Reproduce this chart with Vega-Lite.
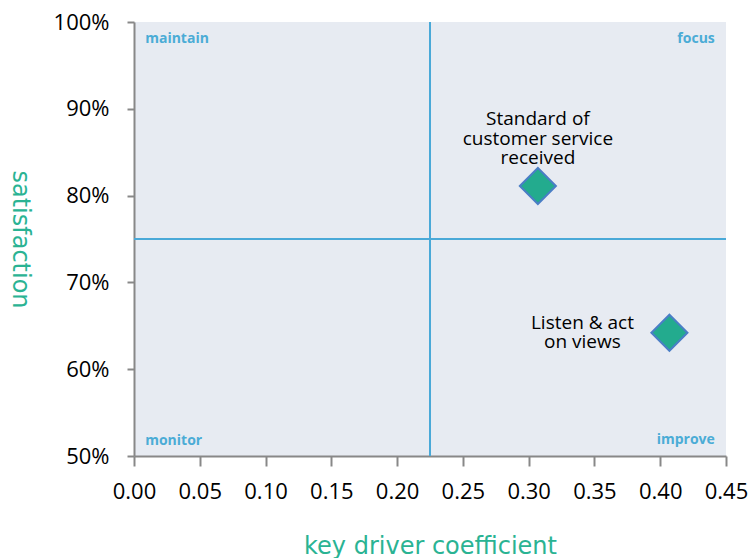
{
  "$schema": "https://vega.github.io/schema/vega-lite/v6.json",
  "width": 592,
  "height": 434,
  "autosize": {"type": "none"},
  "padding": {"left": 134, "top": 22, "right": 27, "bottom": 102},
  "background": "white",
  "view": {"fill": "#e7ebf2", "stroke": null},
  "config": {
    "font": "Open Sans",
    "axis": {
      "domainColor": "#888888", "domainWidth": 2, "tickColor": "#888888", "tickWidth": 2,
      "labelColor": "#000000", "labelFont": "Open Sans", "labelFontSize": 22, "labelOverlap": false, "labelFlush": false,
      "titleColor": "#2ab393", "titleFont": "DejaVu Sans", "titleFontSize": 24, "titleFontWeight": "normal",
      "grid": false
    }
  },
  "datasets": {
    "points": [
      {"driver": "Standard of\ncustomer service\nreceived", "coef": 0.307, "sat": 0.811, "pos": "above"},
      {"driver": "Listen & act\non views", "coef": 0.407, "sat": 0.642, "pos": "left"}
    ],
    "quadrants": [
      {"label": "maintain", "coef": 0.0085, "sat": 0.98, "side": "left"},
      {"label": "focus", "coef": 0.4415, "sat": 0.98, "side": "right"},
      {"label": "monitor", "coef": 0.0085, "sat": 0.517, "side": "left"},
      {"label": "improve", "coef": 0.4415, "sat": 0.518, "side": "right"}
    ],
    "vline": [{"coef": 0.225}],
    "hline": [{"sat": 0.75}]
  },
  "layer": [
    {
      "data": {"name": "vline"},
      "mark": {"type": "rule", "color": "#4aa9d8", "strokeWidth": 2},
      "encoding": {
        "x": {"field": "coef", "type": "quantitative", "scale": {"domain": [0, 0.45], "nice": false},
          "axis": {"values": [0, 0.05, 0.1, 0.15, 0.2, 0.25, 0.3, 0.35, 0.4, 0.45], "format": ".2f",
            "tickSize": 10, "labelPadding": 15, "title": "key driver coefficient", "titleBaseline": "alphabetic", "titleY": 97}}
      }
    },
    {
      "data": {"name": "hline"},
      "mark": {"type": "rule", "color": "#4aa9d8", "strokeWidth": 2},
      "encoding": {
        "y": {"field": "sat", "type": "quantitative", "scale": {"domain": [0.5, 1], "nice": false},
          "axis": {"values": [0.5, 0.6, 0.7, 0.8, 0.9, 1.0], "format": ".0%", "tickSize": 7, "labelPadding": 18,
            "title": "satisfaction", "titleAngle": 90, "titleX": -115, "titleY": 217, "titleAlign": "center", "titleBaseline": "middle"}}
      }
    },
    {
      "data": {"name": "quadrants"},
      "transform": [{"filter": "datum.side == 'left'"}],
      "mark": {"type": "text", "align": "left", "baseline": "middle", "fontWeight": "bold", "fontSize": 14, "color": "#4bacd6"},
      "encoding": {
        "x": {"field": "coef", "type": "quantitative"},
        "y": {"field": "sat", "type": "quantitative"},
        "text": {"field": "label"}
      }
    },
    {
      "data": {"name": "quadrants"},
      "transform": [{"filter": "datum.side == 'right'"}],
      "mark": {"type": "text", "align": "right", "baseline": "middle", "fontWeight": "bold", "fontSize": 14, "color": "#4bacd6"},
      "encoding": {
        "x": {"field": "coef", "type": "quantitative"},
        "y": {"field": "sat", "type": "quantitative"},
        "text": {"field": "label"}
      }
    },
    {
      "data": {"name": "points"},
      "mark": {"type": "point", "shape": "diamond", "size": 1300, "filled": true, "fill": "#23ab8e", "stroke": "#4a7ec6", "strokeWidth": 2, "opacity": 1},
      "encoding": {
        "x": {"field": "coef", "type": "quantitative"},
        "y": {"field": "sat", "type": "quantitative"}
      }
    },
    {
      "data": {"name": "points"},
      "transform": [{"filter": "datum.pos == 'above'"}],
      "mark": {"type": "text", "align": "center", "baseline": "middle", "fontSize": 19, "lineHeight": 19.5, "dy": -67, "color": "#000000", "lineBreak": "\n"},
      "encoding": {
        "x": {"field": "coef", "type": "quantitative"},
        "y": {"field": "sat", "type": "quantitative"},
        "text": {"field": "driver"}
      }
    },
    {
      "data": {"name": "points"},
      "transform": [{"filter": "datum.pos == 'left'"}],
      "mark": {"type": "text", "align": "center", "baseline": "middle", "fontSize": 19, "lineHeight": 19.5, "dx": -87, "dy": -10, "color": "#000000", "lineBreak": "\n"},
      "encoding": {
        "x": {"field": "coef", "type": "quantitative"},
        "y": {"field": "sat", "type": "quantitative"},
        "text": {"field": "driver"}
      }
    }
  ]
}
